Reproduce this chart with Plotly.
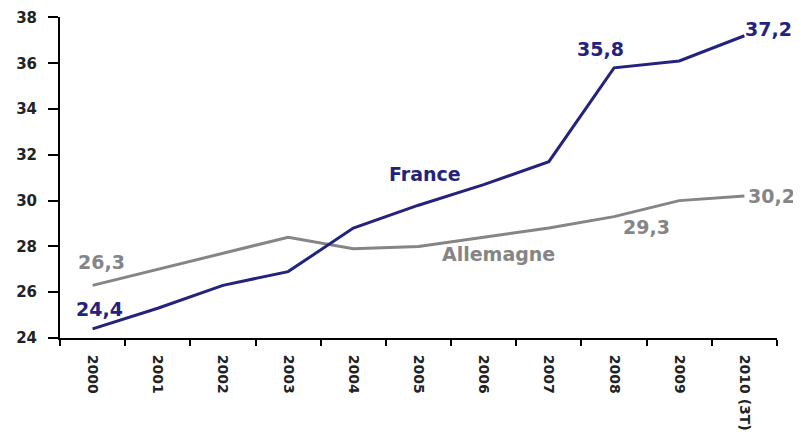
import plotly.graph_objects as go

YEARS = ["2000", "2001", "2002", "2003", "2004", "2005",
         "2006", "2007", "2008", "2009", "2010 (3T)"]
FRANCE = [24.4, 25.3, 26.3, 26.9, 28.8, 29.8, 30.7, 31.7, 35.8, 36.1, 37.2]
ALLEMAGNE = [26.3, 27.0, 27.7, 28.4, 27.9, 28.0, 28.4, 28.8, 29.3, 30.0, 30.2]
Y_TICKS = [24, 26, 28, 30, 32, 34, 36, 38]

NAVY = "#23237d"
GREY = "#858585"
FONT = "DejaVu Sans"

fig = go.Figure()
fig.add_trace(go.Scatter(x=YEARS, y=ALLEMAGNE, mode="lines", name="Allemagne",
                         line=dict(color=GREY, width=3)))
fig.add_trace(go.Scatter(x=YEARS, y=FRANCE, mode="lines", name="France",
                         line=dict(color=NAVY, width=3)))

# value labels next to selected points: (series, index, colour, xshift, yshift)
value_labels = [
    (FRANCE, 0, NAVY, 7, 20),
    (ALLEMAGNE, 0, GREY, 9, 23),
    (FRANCE, 8, NAVY, -14, 19),
    (FRANCE, 10, NAVY, 24, 7),
    (ALLEMAGNE, 10, GREY, 27, 0),
    (ALLEMAGNE, 8, GREY, 32, -10),
]
for series, i, color, dx, dy in value_labels:
    fig.add_annotation(
        x=i, y=series[i], text=f"<b>{series[i]:.1f}</b>".replace(".", ","),
        showarrow=False, xshift=dx, yshift=dy,
        font=dict(family=FONT, size=19, color=color),
    )

fig.add_annotation(x=0.509, y=0.512, xref="paper", yref="paper", text="<b>France</b>",
                   showarrow=False, font=dict(family=FONT, size=19, color=NAVY))
fig.add_annotation(x=0.612, y=0.222, xref="paper", yref="paper", text="<b>Allemagne</b>",
                   showarrow=False, font=dict(family=FONT, size=19, color=GREY))

# the page body keeps its default 8px margin, so the figure is 8px smaller
fig.update_layout(
    width=793, height=424,
    margin=dict(l=52, r=24, t=9, b=94),
    plot_bgcolor="white", paper_bgcolor="white",
    showlegend=False,
    font=dict(family=FONT, size=15, color="#222222"),
)
fig.update_xaxes(
    type="category", tickson="boundaries", tickangle=90,
    range=[-0.5, len(YEARS) - 0.5], automargin=False,
    showline=True, linecolor="black", linewidth=2,
    ticks="outside", ticklen=6, tickcolor="black", tickwidth=2,
    ticklabelstandoff=12,
    showgrid=False, zeroline=False,
    tickfont=dict(family=FONT, size=14, color="#222222", weight="bold"),
)
fig.update_yaxes(
    range=[24, 38.02], tickvals=Y_TICKS, automargin=False,
    ticklabeloverflow="allow",
    showline=True, linecolor="black", linewidth=2,
    ticks="outside", ticklen=10, tickcolor="black", tickwidth=2,
    ticklabelstandoff=8,
    showgrid=False, zeroline=False,
    tickfont=dict(family=FONT, size=15, color="#222222", weight="bold"),
)

fig.write_html("out.html")
